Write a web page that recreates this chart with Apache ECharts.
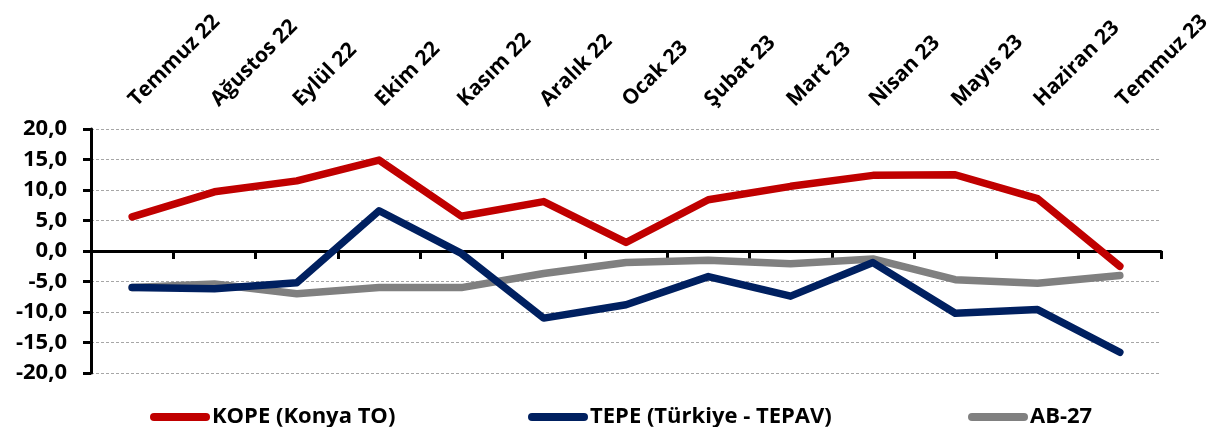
<!DOCTYPE html>
<html>
<head>
<meta charset="utf-8">
<script src="https://cdn.jsdelivr.net/npm/echarts@6/dist/echarts.min.js"></script>
<style>
  html, body { margin: 0; padding: 0; background: #fff; }
  #chart { width: 1226px; height: 427px; }
</style>
</head>
<body>
<div id="chart"></div>
<script>
const months = ['Temmuz 22', 'Ağustos 22', 'Eylül 22', 'Ekim 22', 'Kasım 22', 'Aralık 22',
  'Ocak 23', 'Şubat 23', 'Mart 23', 'Nisan 23', 'Mayıs 23', 'Haziran 23', 'Temmuz 23']
const kope = [5.6, 9.7, 11.5, 14.9, 5.7, 8.1, 1.4, 8.4, 10.6, 12.4, 12.5, 8.6, -2.5]
const tepe = [-6.0, -6.2, -5.2, 6.6, -0.4, -11.0, -8.8, -4.2, -7.4, -1.9, -10.2, -9.6, -16.6]
const ab27 = [-6.0, -5.4, -7.0, -6.0, -6.0, -3.7, -1.9, -1.5, -2.1, -1.3, -4.7, -5.3, -4.0]
const names = ['KOPE (Konya TO)', 'TEPE (Türkiye - TEPAV)', 'AB-27']
const colors = ['#C00000', '#002060', '#808080']

const font = '"Open Sans", "Noto Sans", sans-serif'
const capsule = 'path://M4,0 H56 A4,4 0 0 1 56,8 H4 A4,4 0 0 1 4,0 Z'

function legendAt (name, left) {
  return {
    data: [name],
    left: left,
    top: 400,
    icon: capsule,
    itemWidth: 60,
    itemHeight: 8,
    itemGap: 0,
    itemStyle: { borderWidth: 0 },
    textStyle: { fontFamily: font, fontWeight: 'bold', fontSize: 22, color: '#000', lineHeight: 24, padding: [0, 0, 0, -3] }
  }
}

const option = {
  animation: false,
  grid: { left: 91, right: 65, top: 129, bottom: 54 },
  legend: [legendAt(names[0], 145), legendAt(names[1], 523), legendAt(names[2], 963)],
  xAxis: [
    {
      type: 'category',
      data: months,
      boundaryGap: true,
      position: 'bottom',
      axisLine: { onZero: true, lineStyle: { color: '#000', width: 3 } },
      axisTick: { show: true, length: 8, lineStyle: { color: '#000', width: 3 } },
      axisLabel: { show: false },
      splitLine: { show: false }
    },
    {
      type: 'category',
      data: months,
      boundaryGap: true,
      position: 'top',
      axisLine: { show: false, onZero: false },
      axisTick: { show: false },
      axisLabel: {
        rotate: -45,
        align: 'left',
        verticalAlign: 'middle',
        margin: 26,
        interval: 0,
        fontFamily: font,
        fontWeight: 'bold',
        fontSize: 21,
        color: '#000'
      },
      splitLine: { show: false }
    }
  ],
  yAxis: {
    type: 'value',
    min: -20,
    max: 20,
    interval: 5,
    axisLine: { show: true, lineStyle: { color: '#000', width: 3 } },
    axisTick: { show: true, length: 8, lineStyle: { color: '#000', width: 3 } },
    axisLabel: {
      margin: 24,
      fontFamily: font,
      fontWeight: 'bold',
      fontSize: 22,
      color: '#000',
      formatter: v => v.toFixed(1).replace('.', ',')
    },
    splitLine: { show: true, lineStyle: { color: '#A6A6A6', width: 1, type: [3, 2] } }
  },
  series: [kope, tepe, ab27].map((d, i) => ({
    name: names[i],
    type: 'line',
    data: d,
    xAxisIndex: 0,
    symbol: 'none',
    color: colors[i],
    z: 3 - i,
    lineStyle: { color: colors[i], width: 7.5, cap: 'round', join: 'round' }
  }))
}

const chart = echarts.init(document.getElementById('chart'))
chart.setOption(option)
</script>
</body>
</html>
